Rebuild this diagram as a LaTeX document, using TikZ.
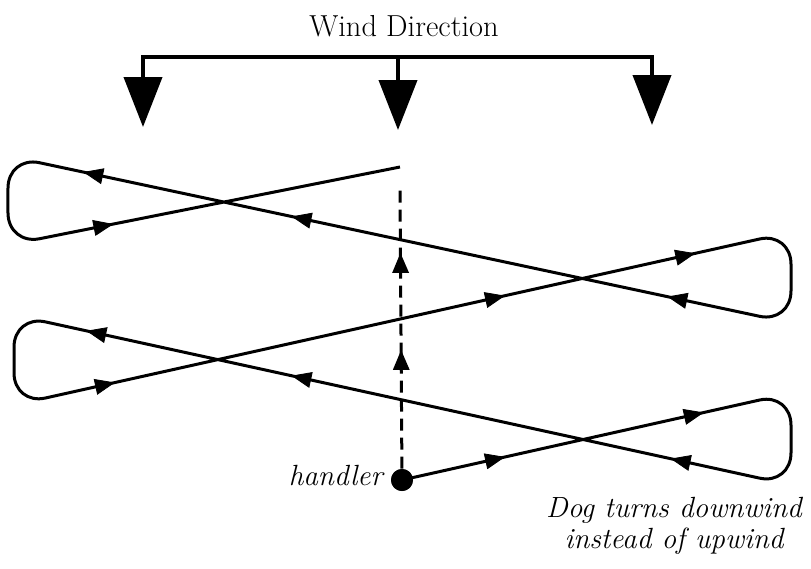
\documentclass[tikz,border=0pt]{standalone}
\usepackage{tikz}
\usetikzlibrary{arrows.meta, decorations.markings, positioning}

\begin{document}
\begin{tikzpicture}[
    x=0.5pt, y=-0.5pt,
    dogtip/.tip = {Triangle[length=10pt, width=8pt]},
    label text/.style = {font=\fontsize{15.2}{16}\selectfont, inner sep=0pt},
    note text/.style = {label text, font=\fontsize{14.6}{15.5}\selectfont\itshape},
    wind bar/.style = {line width=2pt, line join=miter},
    wind arrow/.style = {wind bar, -{Triangle[length=25pt, width=19pt]}},
    route/.style = {line width=1.5pt, rounded corners=16pt, line join=round},
    dash line/.style = {line width=1.5pt, dash pattern=on 6pt off 3.5pt},
    tip at/.style = {postaction={decorate, decoration={markings,
        mark=at position #1 with {\arrow{dogtip}}}}}
]
\useasboundingbox (0,0) rectangle (811,569);

% wind direction
\node[label text, anchor=base] (wind) at (404,36) {Wind Direction};
\coordinate (wl) at (143,57);
\coordinate (wm) at (398,57);
\coordinate (wr) at (652,57);
\coordinate (tl) at (143,127);
\coordinate (tm) at (398,130);
\coordinate (tr) at (652,125);
\draw[wind bar, {Triangle[length=25pt, width=19pt]}-{Triangle[length=25pt, width=19pt]}]
    (tl) -- (wl) -- (wr) -- (tr);
\draw[wind arrow] (wm) -- (tm);

% handler and the dog's route
\node[circle, fill, inner sep=0pt, minimum size=11pt] (dot) at (402,480) {};
\node[note text, anchor=base east] (handler) at (383,485) {handler};

\coordinate (c1) at (791,393);
\coordinate (c2) at (791,485);
\coordinate (c3) at (14,315);
\coordinate (c4) at (14,405);
\coordinate (c5) at (791,232);
\coordinate (c6) at (791,323);
\coordinate (c7) at (8,156);
\coordinate (c8) at (8,245);
\coordinate (end) at (400,167);
\coordinate (dtop) at (400,188);

\draw[route] (dot.center) -- (c1) -- (c2) -- (c3) -- (c4) -- (c5) -- (c6)
    -- (c7) -- (c8) -- (end);

\path[tip at=0.265, tip at=0.776] (dot.center) -- (c1);
\path[tip at=0.155, tip at=0.643, tip at=0.907] (c2) -- (c3);
\path[tip at=0.130, tip at=0.632, tip at=0.877] (c4) -- (c5);
\path[tip at=0.158, tip at=0.638, tip at=0.904] (c6) -- (c7);
\path[tip at=0.269] (c8) -- (end);

% handler's line
\draw[dash line, tip at=0.423, tip at=0.769] (dot) -- (dtop);
\node[circle, fill, inner sep=0pt, minimum size=11pt] at (dot) {};

\node[note text, align=center, anchor=north] (turn) at (674,497)
    {Dog turns downwind\\instead of upwind};

\end{tikzpicture}
\end{document}
